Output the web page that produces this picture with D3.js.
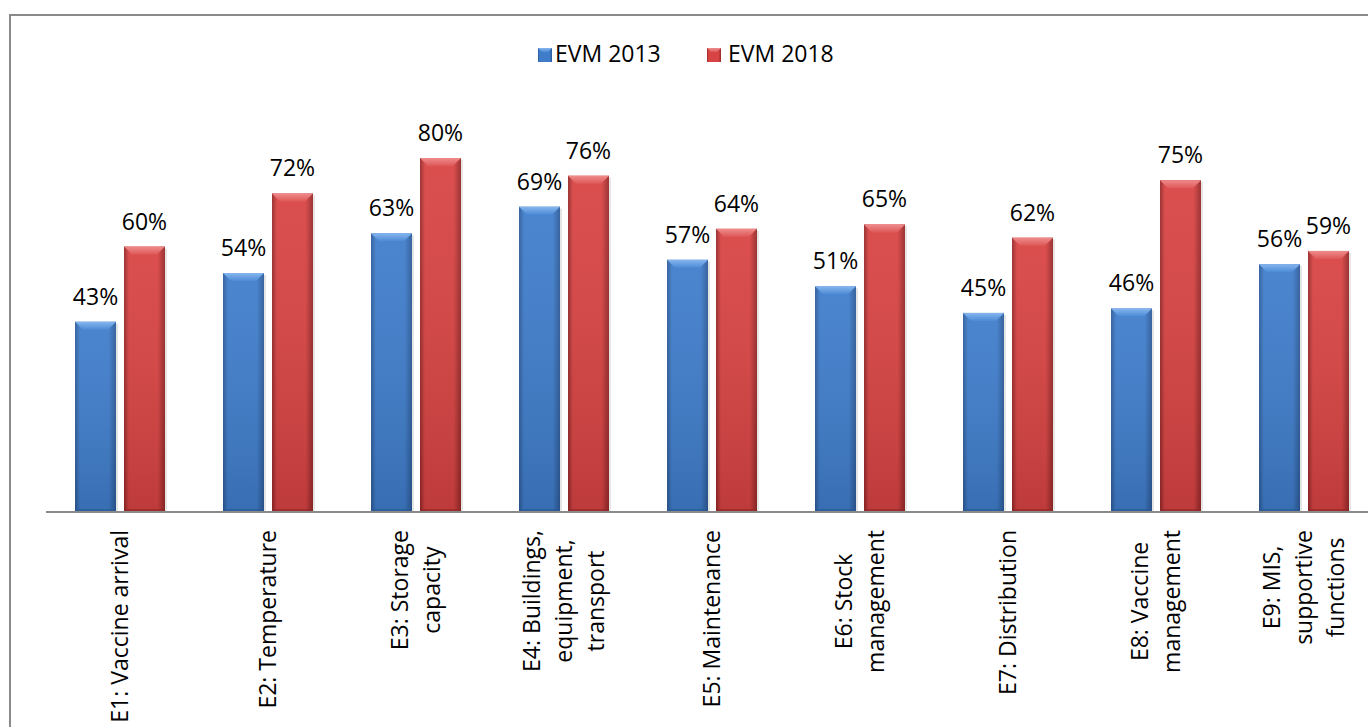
<!DOCTYPE html>
<html>
<head>
<meta charset="utf-8">
<script src="https://cdn.jsdelivr.net/npm/d3@7"></script>
<style>
  html, body { margin: 0; padding: 0; background: #fff; }
  svg { display: block; }
  text { font-family: "Open Sans", "Noto Sans", sans-serif; fill: #000; }
</style>
</head>
<body>
<svg id="chart" width="1368" height="727"></svg>
<script>
// ---- data ----
const categories = [
  ["E1: Vaccine arrival"],
  ["E2: Temperature"],
  ["E3: Storage", "capacity"],
  ["E4: Buildings,", "equipment,", "transport"],
  ["E5: Maintenance"],
  ["E6: Stock", "management"],
  ["E7: Distribution"],
  ["E8: Vaccine", "management"],
  ["E9: MIS,", "supportive", "functions"]
];
const seriesNames = ["EVM 2013", "EVM 2018"];
const evm2013 = [43, 54, 63, 69, 57, 51, 45, 46, 56];
const evm2018 = [60, 72, 80, 76, 64, 65, 62, 75, 59];
const seriesValues = [evm2013, evm2018];

// ---- layout ----
const W = 1368, H = 727;
const svg = d3.select("#chart");
const fs = 23;

const catKeys = categories.map((c, i) => i);
const x0 = d3.scaleBand().domain(catKeys).range([46, 1378]).paddingInner(0.392).paddingOuter(0.196);
const x1 = d3.scaleBand().domain(seriesNames).range([0, x0.bandwidth()]).paddingInner(0.163);
const y = d3.scaleLinear().domain([0, 90]).range([512, 113.75]);

const palette = {
  "EVM 2013": { edge: "#2c5a98", mid: "#3f7dcb", top1: "#86b6ee", top2: "#4c8bd6", bottom: "#2a5690" },
  "EVM 2018": { edge: "#962828", mid: "#d84343", top1: "#ef8c8c", top2: "#de5858", bottom: "#8e2525" }
};

const defs = svg.append("defs");
seriesNames.forEach((s, i) => {
  const p = palette[s];
  const g = defs.append("linearGradient").attr("id", "body" + i).attr("x1", "0").attr("x2", "1").attr("y1", "0").attr("y2", "0");
  g.append("stop").attr("offset", "0%").attr("stop-color", p.edge);
  g.append("stop").attr("offset", "12%").attr("stop-color", p.mid);
  g.append("stop").attr("offset", "82%").attr("stop-color", p.mid);
  g.append("stop").attr("offset", "100%").attr("stop-color", p.edge);
  const t = defs.append("linearGradient").attr("id", "top" + i).attr("x1", "0").attr("x2", "0").attr("y1", "0").attr("y2", "1");
  t.append("stop").attr("offset", "0%").attr("stop-color", p.top1);
  t.append("stop").attr("offset", "100%").attr("stop-color", p.top2);
});
const shade = defs.append("linearGradient").attr("id", "shade").attr("x1", "0").attr("x2", "0").attr("y1", "0").attr("y2", "1");
shade.append("stop").attr("offset", "0%").attr("stop-color", "#fff").attr("stop-opacity", 0.06);
shade.append("stop").attr("offset", "100%").attr("stop-color", "#000").attr("stop-opacity", 0.12);

// border
svg.append("rect").attr("x", 10).attr("y", 15).attr("width", 1400).attr("height", 740)
  .attr("fill", "none").attr("stroke", "#8a8a8a").attr("stroke-width", 2);

// bars
const groups = svg.append("g").selectAll("g").data(catKeys).join("g")
  .attr("transform", d => `translate(${x0(d)},0)`);

seriesNames.forEach((s, si) => {
  groups.each(function(ci) {
    const g = d3.select(this);
    const v = seriesValues[si][ci];
    const bx = x1(s), bw = x1.bandwidth();
    const by = y(v), bh = y(0) - y(v);
    // soft shadow
    g.append("rect").attr("x", bx + 2).attr("y", by + 2).attr("width", bw).attr("height", bh - 2)
      .attr("fill", "#000").attr("opacity", 0.10);
    g.append("rect").attr("x", bx).attr("y", by).attr("width", bw).attr("height", bh)
      .attr("fill", `url(#body${si})`);
    g.append("rect").attr("x", bx).attr("y", by).attr("width", bw).attr("height", bh)
      .attr("fill", "url(#shade)");
    const bev = 8;
    g.append("polygon")
      .attr("points", [[bx, by], [bx + bw, by], [bx + bw - bev, by + bev], [bx + bev, by + bev]].map(p => p.join(",")).join(" "))
      .attr("fill", `url(#top${si})`);
    const bb = 3;
    g.append("polygon")
      .attr("points", [[bx, by + bh], [bx + bw, by + bh], [bx + bw - bb, by + bh - bb], [bx + bb, by + bh - bb]].map(p => p.join(",")).join(" "))
      .attr("fill", palette[s].bottom).attr("opacity", 0.6);
    g.append("text").attr("x", bx + bw / 2).attr("y", by - 17)
      .attr("text-anchor", "middle").attr("font-size", fs).text(v + "%");
  });
});

// baseline
svg.append("line").attr("x1", 46).attr("x2", 1378).attr("y1", y(0)).attr("y2", y(0))
  .attr("stroke", "#8a8a8a").attr("stroke-width", 2);

// category labels
const lineH = 32;
catKeys.forEach(ci => {
  const lines = categories[ci];
  const cx = x0(ci) + x0.bandwidth() / 2;
  const t = svg.append("text").attr("font-size", fs).attr("text-anchor", "middle");
  const spans = lines.map((l, li) => t.append("tspan").text(l));
  const maxLen = d3.max(spans, sp => sp.node().getComputedTextLength());
  const cy = 530 + maxLen / 2;
  spans.forEach((sp, li) => {
    sp.attr("x", 0).attr("y", (li - (lines.length - 1) / 2) * lineH + fs * 0.35);
  });
  t.attr("transform", `translate(${cx},${cy}) rotate(-90)`);
});

// legend
const legend = [
  { name: seriesNames[0], sx: 538, tx: 555 },
  { name: seriesNames[1], sx: 707, tx: 728 }
];
legend.forEach((l, i) => {
  svg.append("rect").attr("x", l.sx).attr("y", 48).attr("width", 14).attr("height", 14).attr("fill", `url(#body${i})`);
  svg.append("polygon").attr("points", `${l.sx},48 ${l.sx+14},48 ${l.sx+10},52 ${l.sx+4},52`).attr("fill", `url(#top${i})`);
  svg.append("text").attr("x", l.tx).attr("y", 62).attr("font-size", fs).text(l.name);
});
</script>
</body>
</html>
